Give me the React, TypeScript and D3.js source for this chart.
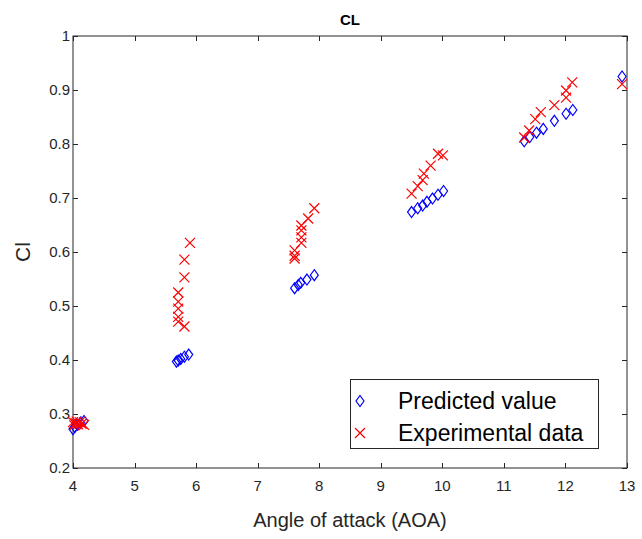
import React, { useRef, useEffect } from "react";
import * as d3 from "d3";

// predicted values (blue diamonds)
const predAoa = [
  4.0, 4.03, 4.07, 4.12, 4.18,
  5.68, 5.71, 5.75, 5.81, 5.88,
  7.6, 7.66, 7.7, 7.8, 7.92,
  9.5, 9.6, 9.68, 9.75, 9.84, 9.93, 10.02,
  11.33, 11.42, 11.53, 11.64, 11.82, 12.01, 12.12,
  12.92,
];
const predCl = [
  0.272, 0.276, 0.28, 0.284, 0.287,
  0.397, 0.399, 0.402, 0.406, 0.41,
  0.533, 0.539, 0.543, 0.549, 0.557,
  0.674, 0.681, 0.686, 0.693, 0.699, 0.706, 0.713,
  0.805, 0.813, 0.821, 0.828, 0.843, 0.856, 0.863,
  0.925,
];

// experimental data (red crosses)
const expAoa = [
  4.0, 4.02, 4.04, 4.06, 4.08, 4.11, 4.14, 4.18,
  5.9, 5.81, 5.81, 5.71, 5.71, 5.71, 5.71, 5.71, 5.81,
  7.92, 7.82, 7.71, 7.71, 7.71, 7.71, 7.6, 7.6, 7.6,
  9.5, 9.6, 9.68, 9.7, 9.81, 9.93, 10.01,
  11.33, 11.41, 11.51, 11.6, 11.82, 12.01, 12.01, 12.11,
  12.92,
];
const expCl = [
  0.285, 0.279, 0.283, 0.286, 0.281, 0.285, 0.282, 0.28,
  0.617, 0.586, 0.553, 0.525, 0.508, 0.495, 0.48, 0.471, 0.462,
  0.681, 0.662, 0.649, 0.64, 0.627, 0.617, 0.603, 0.593, 0.588,
  0.708, 0.722, 0.733, 0.745, 0.76, 0.782, 0.779,
  0.812, 0.825, 0.846, 0.859, 0.872, 0.886, 0.899, 0.914,
  0.911,
];

const xTicks = [4, 5, 6, 7, 8, 9, 10, 11, 12, 13];
const yTicks = [0.2, 0.3, 0.4, 0.5, 0.6, 0.7, 0.8, 0.9, 1];
const legendLabels = ["Predicted value", "Experimental data"];

const W = 642;
const H = 539;
const margin = { left: 73, right: 15, top: 36, bottom: 71 };
const axisColor = "#262626";
const font = "'Liberation Sans', Arial, sans-serif";

function App() {
  const svgRef = useRef(null);

  useEffect(() => {
    const svg = d3.select(svgRef.current);
    svg.selectAll("*").remove();

    const x = d3.scaleLinear().domain([4, 13]).range([margin.left, W - margin.right]);
    const y = d3.scaleLinear().domain([0.2, 1]).range([H - margin.bottom, margin.top]);

    const diamond = (cx, cy) =>
      `M${cx},${cy - 5.5}L${cx + 4},${cy}L${cx},${cy + 5.5}L${cx - 4},${cy}Z`;
    const cross = (cx, cy) =>
      `M${cx - 5},${cy - 5}L${cx + 5},${cy + 5}M${cx - 5},${cy + 5}L${cx + 5},${cy - 5}`;

    svg.append("rect").attr("width", W).attr("height", H).attr("fill", "#fff");

    // axes box
    const x0 = x.range()[0], x1 = x.range()[1];
    const y0 = y.range()[0], y1 = y.range()[1];
    const axes = svg.append("g");
    axes
      .append("rect")
      .attr("x", x0)
      .attr("y", y1)
      .attr("width", x1 - x0)
      .attr("height", y0 - y1)
      .attr("fill", "none")
      .attr("stroke", axisColor)
      .attr("stroke-width", 1);

    // ticks on all four sides, pointing in
    xTicks.forEach((t) => {
      const px = Math.round(x(t)) + 0.5;
      axes.append("line").attr("x1", px).attr("x2", px).attr("y1", y0).attr("y2", y0 - 5).attr("stroke", axisColor);
      axes.append("line").attr("x1", px).attr("x2", px).attr("y1", y1).attr("y2", y1 + 5).attr("stroke", axisColor);
      axes
        .append("text")
        .attr("x", x(t))
        .attr("y", y0 + 23)
        .attr("text-anchor", "middle")
        .attr("font-family", font)
        .attr("font-size", 15)
        .attr("fill", axisColor)
        .text(d3.format("d")(t));
    });
    yTicks.forEach((t) => {
      const py = Math.round(y(t)) + 0.5;
      axes.append("line").attr("x1", x0).attr("x2", x0 + 5).attr("y1", py).attr("y2", py).attr("stroke", axisColor);
      axes.append("line").attr("x1", x1).attr("x2", x1 - 5).attr("y1", py).attr("y2", py).attr("stroke", axisColor);
      axes
        .append("text")
        .attr("x", x0 - 3)
        .attr("y", y(t) + 5)
        .attr("text-anchor", "end")
        .attr("font-family", font)
        .attr("font-size", 15)
        .attr("fill", axisColor)
        .text(t === 1 ? "1" : d3.format(".1f")(t));
    });

    // title and labels
    svg
      .append("text")
      .attr("x", (x0 + x1) / 2)
      .attr("y", 25)
      .attr("text-anchor", "middle")
      .attr("font-family", font)
      .attr("font-size", 15)
      .attr("font-weight", "bold")
      .attr("fill", "#000")
      .text("CL");
    svg
      .append("text")
      .attr("x", (x0 + x1) / 2)
      .attr("y", 527)
      .attr("text-anchor", "middle")
      .attr("font-family", font)
      .attr("font-size", 20)
      .attr("fill", axisColor)
      .text("Angle of attack (AOA)");
    svg
      .append("text")
      .attr("transform", `translate(30,${(y0 + y1) / 2}) rotate(-90)`)
      .attr("text-anchor", "middle")
      .attr("font-family", font)
      .attr("font-size", 21)
      .attr("fill", axisColor)
      .text("Cl");

    // data
    const content = svg.append("g");
    predAoa.forEach((a, i) => {
      content
        .append("path")
        .attr("d", diamond(x(a), y(predCl[i])))
        .attr("fill", "none")
        .attr("stroke", "#0000ff")
        .attr("stroke-width", 1.2);
    });
    expAoa.forEach((a, i) => {
      content
        .append("path")
        .attr("d", cross(x(a), y(expCl[i])))
        .attr("fill", "none")
        .attr("stroke", "#ff0000")
        .attr("stroke-width", 1.2);
    });

    // legend
    const lg = svg.append("g");
    lg.append("rect")
      .attr("x", 350.5)
      .attr("y", 379.5)
      .attr("width", 248)
      .attr("height", 69)
      .attr("fill", "#fff")
      .attr("stroke", axisColor);
    legendLabels.forEach((lab, i) => {
      const cy = 401 + i * 32;
      lg.append("path")
        .attr("d", i === 0 ? diamond(360, cy) : cross(360, cy))
        .attr("fill", "none")
        .attr("stroke", i === 0 ? "#0000ff" : "#ff0000")
        .attr("stroke-width", 1.2);
      lg.append("text")
        .attr("x", 398)
        .attr("y", cy + 8)
        .attr("font-family", font)
        .attr("font-size", 23)
        .attr("fill", "#000")
        .text(lab);
    });
  }, []);

  return (
    <svg
      ref={svgRef}
      width={W}
      height={H}
      style={{ position: "absolute", left: 0, top: 0 }}
    ></svg>
  );
}

export default App;
